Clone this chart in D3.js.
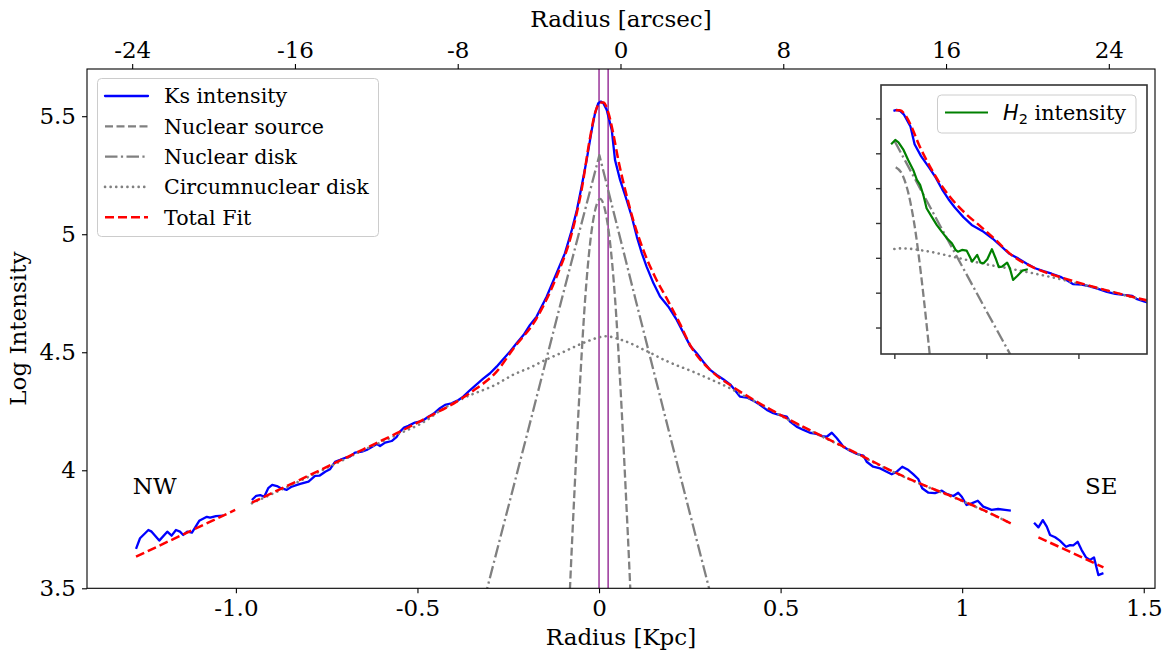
<!DOCTYPE html>
<html>
<head>
<meta charset="utf-8">
<script src="https://cdn.jsdelivr.net/npm/d3@7"></script>
<style>
  body { margin: 0; background: #fff; }
  svg text { font-family: "DejaVu Serif", serif; fill: #000; }
</style>
</head>
<body>
<svg id="chart" width="1166" height="656"></svg>
<script>
// radius [kpc], log intensity
var ksNW = [[-1.275,3.667],[-1.264,3.712],[-1.241,3.747],[-1.232,3.740],[-1.211,3.702],[-1.189,3.740],[-1.177,3.723],[-1.165,3.747],[-1.154,3.740],[-1.145,3.726],[-1.134,3.740],[-1.121,3.736],[-1.101,3.786],[-1.080,3.803],[-1.071,3.799],[-1.055,3.806],[-1.035,3.808]];
var ksMid = [[-0.956,3.874],[-0.944,3.892],[-0.933,3.895],[-0.922,3.888],[-0.911,3.924],[-0.900,3.938],[-0.887,3.933],[-0.876,3.924],[-0.860,3.917],[-0.846,3.931],[-0.823,3.942],[-0.800,3.952],[-0.782,3.976],[-0.770,3.977],[-0.754,3.994],[-0.741,4.004],[-0.727,4.036],[-0.713,4.044],[-0.695,4.055],[-0.686,4.058],[-0.672,4.075],[-0.653,4.079],[-0.640,4.086],[-0.621,4.103],[-0.612,4.111],[-0.603,4.103],[-0.589,4.117],[-0.571,4.124],[-0.557,4.142],[-0.548,4.164],[-0.537,4.181],[-0.525,4.188],[-0.507,4.202],[-0.488,4.208],[-0.470,4.227],[-0.456,4.239],[-0.438,4.263],[-0.424,4.277],[-0.406,4.284],[-0.387,4.298],[-0.374,4.312],[-0.355,4.340],[-0.337,4.364],[-0.319,4.388],[-0.300,4.411],[-0.282,4.439],[-0.264,4.470],[-0.245,4.503],[-0.227,4.538],[-0.208,4.573],[-0.190,4.616],[-0.172,4.651],[-0.144,4.736],[-0.117,4.835],[-0.094,4.919],[-0.075,5.018],[-0.061,5.103],[-0.048,5.202],[-0.034,5.315],[-0.020,5.442],[-0.011,5.513],[-0.002,5.555],[0.005,5.562],[0.012,5.555],[0.021,5.527],[0.035,5.442],[0.044,5.315],[0.058,5.230],[0.076,5.145],[0.090,5.075],[0.104,4.990],[0.118,4.919],[0.131,4.863],[0.150,4.792],[0.168,4.736],[0.191,4.693],[0.214,4.637],[0.251,4.527],[0.269,4.496],[0.287,4.460],[0.306,4.425],[0.324,4.404],[0.342,4.386],[0.361,4.364],[0.374,4.340],[0.388,4.312],[0.407,4.308],[0.425,4.295],[0.443,4.277],[0.462,4.256],[0.480,4.242],[0.498,4.234],[0.517,4.227],[0.526,4.206],[0.544,4.185],[0.563,4.171],[0.581,4.159],[0.599,4.154],[0.613,4.145],[0.627,4.142],[0.641,4.159],[0.655,4.136],[0.673,4.100],[0.691,4.083],[0.710,4.069],[0.728,4.062],[0.737,4.036],[0.755,4.015],[0.774,4.008],[0.792,3.994],[0.806,3.983],[0.820,3.994],[0.835,4.015],[0.852,4.001],[0.865,3.984],[0.879,3.963],[0.890,3.924],[0.907,3.905],[0.925,3.903],[0.944,3.914],[0.957,3.900],[0.976,3.891],[0.989,3.905],[0.999,3.888],[1.012,3.853],[1.026,3.860],[1.043,3.871],[1.058,3.846],[1.081,3.832],[1.099,3.836],[1.118,3.832],[1.134,3.829]];
var ksSE = [[1.198,3.778],[1.210,3.758],[1.222,3.789],[1.233,3.761],[1.242,3.726],[1.256,3.716],[1.269,3.702],[1.286,3.676],[1.297,3.683],[1.306,3.682],[1.318,3.697],[1.329,3.662],[1.341,3.631],[1.352,3.620],[1.363,3.631],[1.375,3.556],[1.389,3.564]];

var fitNW = [[-1.275,3.634],[-1.140,3.732],[-1.002,3.832]];
var fitMid = [[-0.956,3.863],[-0.796,3.980],[-0.649,4.089],[-0.557,4.157],[-0.465,4.230],[-0.392,4.291],[-0.337,4.347],[-0.282,4.418],[-0.236,4.515],[-0.172,4.644],[-0.117,4.820],[-0.075,5.004],[-0.048,5.188],[-0.025,5.407],[-0.011,5.513],[0.003,5.558],[0.012,5.558],[0.026,5.513],[0.039,5.428],[0.053,5.315],[0.072,5.188],[0.094,5.061],[0.122,4.933],[0.154,4.820],[0.186,4.729],[0.223,4.620],[0.251,4.530],[0.306,4.425],[0.361,4.361],[0.434,4.291],[0.526,4.213],[0.618,4.142],[0.710,4.072],[0.801,4.001],[0.893,3.938],[0.985,3.881],[1.077,3.818],[1.134,3.775]];
var fitSE = [[1.210,3.716],[1.299,3.653],[1.389,3.589]];

var nuclearSource = [[-0.088,3.20],[-0.080,3.50],[-0.067,3.93],[-0.052,4.38],[-0.038,4.73],[-0.024,4.97],[-0.011,5.10],[0.003,5.15],[0.017,5.10],[0.030,4.97],[0.044,4.73],[0.058,4.38],[0.073,3.93],[0.086,3.50],[0.094,3.20]];
var nuclearDisk = [[-0.360,3.19],[-0.308,3.50],[-0.200,4.141],[-0.100,4.741],[0.001,5.335],[0.100,4.727],[0.200,4.119],[0.303,3.50],[0.350,3.21]];
var circumDisk = [[-0.956,3.86],[-0.796,3.975],[-0.649,4.085],[-0.557,4.15],[-0.465,4.222],[-0.447,4.243],[-0.374,4.305],[-0.282,4.365],[-0.236,4.405],[-0.190,4.435],[-0.144,4.47],[-0.100,4.50],[-0.050,4.535],[0.000,4.563],[0.0165,4.568],[0.070,4.548],[0.131,4.505],[0.190,4.46],[0.255,4.42],[0.306,4.386],[0.361,4.347],[0.400,4.315],[0.450,4.275],[0.526,4.21],[0.618,4.14],[0.710,4.07],[0.800,4.0],[0.893,3.937],[0.985,3.88],[1.077,3.817],[1.134,3.775]];

var h2Profile = [[-0.007,5.315],[0.002,5.346],[0.009,5.329],[0.020,5.274],[0.030,5.202],[0.041,5.131],[0.049,5.059],[0.056,5.023],[0.063,4.951],[0.070,4.856],[0.081,4.796],[0.092,4.736],[0.103,4.688],[0.114,4.641],[0.125,4.605],[0.133,4.557],[0.138,4.544],[0.147,4.557],[0.157,4.552],[0.162,4.521],[0.169,4.473],[0.180,4.521],[0.187,4.466],[0.194,4.461],[0.202,4.490],[0.212,4.562],[0.220,4.497],[0.227,4.433],[0.234,4.437],[0.245,4.466],[0.251,4.425],[0.258,4.341],[0.267,4.370],[0.278,4.408],[0.290,4.418]];

var centerLines = [0, 0.025];

var kpcTicks = [-1, -0.5, 0, 0.5, 1, 1.5];
var kpcLabels = ["-1.0", "-0.5", "0", "0.5", "1", "1.5"];
var arcTicks = [-24, -16, -8, 0, 8, 16, 24];
var arcLabels = ["-24", "-16", "-8", "0", "8", "16", "24"];
var logTicks = [3.5, 4, 4.5, 5, 5.5];
var logLabels = ["3.5", "4", "4.5", "5", "5.5"];
var insetXTicks = [0, 0.2, 0.4];
var insetYTicks = [4, 4.25, 4.5, 4.75, 5, 5.25, 5.5];

var sideLabels = [["NW", -1.284, 3.9], ["SE", 1.338, 3.9]];

var svg = d3.select('#chart');
var L = 87, R = 1155, T = 69, B = 588.3;

var x = d3.scaleLinear().domain([-1.41, 1.531]).range([L, R]);
var xTop = d3.scaleLinear().domain([-26.22, 26.27]).range([L, R]);
var y = d3.scaleLinear().domain([3.5, 5.7]).range([B, T]);

svg.append('defs').append('clipPath').attr('id', 'mainClip')
  .append('rect').attr('x', L).attr('y', T).attr('width', R - L).attr('height', B - T);

var plot = svg.append('g').attr('clip-path', 'url(#mainClip)');

function drawLine(g, data, sx, sy, color, width, dash, curve) {
  var line = d3.line().x(function (d) { return sx(d[0]); }).y(function (d) { return sy(d[1]); })
    .curve(curve || d3.curveLinear);
  var p = g.append('path').datum(data).attr('d', line)
    .attr('fill', 'none').attr('stroke', color).attr('stroke-width', width)
    .attr('stroke-linejoin', 'round');
  if (dash) p.attr('stroke-dasharray', dash);
  return p;
}

var DASH = '8,3.5', DASHDOT = '12.5,3.4,2.2,3.4', DOT = '2.2,3.4', REDDASH = '9,4';

// vertical lines at the centre
centerLines.forEach(function (c) {
  plot.append('line').attr('x1', x(c)).attr('x2', x(c)).attr('y1', T).attr('y2', B)
    .attr('stroke', 'purple').attr('stroke-width', 1.2);
});

[ksNW, ksMid, ksSE].forEach(function (s) { drawLine(plot, s, x, y, '#0000ff', 2.3); });
drawLine(plot, nuclearSource, x, y, 'gray', 2.3, DASH, d3.curveMonotoneX);
drawLine(plot, nuclearDisk, x, y, 'gray', 2.3, DASHDOT);
drawLine(plot, circumDisk, x, y, 'gray', 2.6, '0.1,5.5', d3.curveMonotoneX).attr('stroke-linecap', 'round');
drawLine(plot, fitNW, x, y, '#ff0000', 2.5, REDDASH);
drawLine(plot, fitMid, x, y, '#ff0000', 2.5, REDDASH, d3.curveMonotoneX);
drawLine(plot, fitSE, x, y, '#ff0000', 2.5, REDDASH);

// side labels
sideLabels.forEach(function (s) {
  svg.append('text').attr('x', x(s[1])).attr('y', y(s[2])).attr('font-size', 23).text(s[0]);
});

// axes
function styleAxis(g, size) {
  g.select('.domain').remove();
  g.selectAll('.tick line').attr('stroke', '#000').attr('stroke-width', 1.1);
  g.selectAll('.tick text').attr('font-family', 'DejaVu Serif').attr('font-size', size).attr('fill', '#000');
}

var gb = svg.append('g').attr('transform', 'translate(0,' + B + ')')
  .call(d3.axisBottom(x).tickValues(kpcTicks).tickFormat(function (d, i) { return kpcLabels[i]; }).tickSize(5).tickPadding(6));
styleAxis(gb, 23);

var gt = svg.append('g').attr('transform', 'translate(0,' + T + ')')
  .call(d3.axisTop(xTop).tickValues(arcTicks).tickFormat(function (d, i) { return arcLabels[i]; }).tickSize(5).tickPadding(6));
styleAxis(gt, 23);

var gl = svg.append('g').attr('transform', 'translate(' + L + ',0)')
  .call(d3.axisLeft(y).tickValues(logTicks).tickFormat(function (d, i) { return logLabels[i]; }).tickSize(5).tickPadding(6));
styleAxis(gl, 23);

svg.append('rect').attr('x', L).attr('y', T).attr('width', R - L).attr('height', B - T)
  .attr('fill', 'none').attr('stroke', '#000').attr('stroke-width', 1.1);

svg.append('text').attr('x', (L + R) / 2).attr('y', 645).attr('text-anchor', 'middle')
  .attr('font-size', 23).text('Radius [Kpc]');
svg.append('text').attr('x', (L + R) / 2).attr('y', 27).attr('text-anchor', 'middle')
  .attr('font-size', 23).text('Radius [arcsec]');
svg.append('text').attr('transform', 'translate(26,' + ((T + B) / 2) + ') rotate(-90)')
  .attr('text-anchor', 'middle').attr('font-size', 23).text('Log Intensity');

// legend
var legendItems = [
  { label: 'Ks intensity', color: '#0000ff', dash: null, w: 2.3 },
  { label: 'Nuclear source', color: 'gray', dash: DASH, w: 2.3 },
  { label: 'Nuclear disk', color: 'gray', dash: DASHDOT, w: 2.3 },
  { label: 'Circumnuclear disk', color: 'gray', dash: '0.1,5.5', w: 2.6 },
  { label: 'Total Fit', color: '#ff0000', dash: REDDASH, w: 2.5 }
];
var lg = svg.append('g');
lg.append('rect').attr('x', 97.5).attr('y', 78.5).attr('width', 281).attr('height', 158).attr('rx', 4)
  .attr('fill', '#fff').attr('fill-opacity', 0.8).attr('stroke', '#cccccc').attr('stroke-width', 1);
legendItems.forEach(function (it, i) {
  var yy = 96 + i * 30.3;
  var ln = lg.append('line').attr('x1', 105).attr('x2', 148).attr('y1', yy).attr('y2', yy)
    .attr('stroke', it.color).attr('stroke-width', it.w).attr('stroke-linecap', 'round');
  if (it.dash) ln.attr('stroke-dasharray', it.dash).attr('stroke-linecap', it.w === 2.6 ? 'round' : 'butt');
  lg.append('text').attr('x', 164).attr('y', yy).attr('dy', '0.36em').attr('font-size', 20.6).text(it.label);
});

// inset
var IL = 881, IR = 1147, IT = 85, IB = 354;
var xi = d3.scaleLinear().domain([-0.029, 0.549]).range([IL, IR]);
var yi = d3.scaleLinear().domain([3.81, 5.74]).range([IB, IT]);

svg.select('defs').append('clipPath').attr('id', 'insetClip')
  .append('rect').attr('x', IL).attr('y', IT).attr('width', IR - IL).attr('height', IB - IT);
svg.append('rect').attr('x', IL).attr('y', IT).attr('width', IR - IL).attr('height', IB - IT).attr('fill', '#fff');
var ins = svg.append('g').attr('clip-path', 'url(#insetClip)');
function right(d) { return d[0] >= -0.003; }

drawLine(ins, ksMid.filter(right), xi, yi, '#0000ff', 2.3);
drawLine(ins, nuclearSource.filter(right), xi, yi, 'gray', 2.3, DASH, d3.curveMonotoneX);
drawLine(ins, nuclearDisk.filter(right), xi, yi, 'gray', 2.3, DASHDOT);
drawLine(ins, circumDisk.filter(right), xi, yi, 'gray', 2.6, '0.1,5.5', d3.curveMonotoneX).attr('stroke-linecap', 'round');
drawLine(ins, fitMid.filter(right), xi, yi, '#ff0000', 2.5, REDDASH, d3.curveMonotoneX);
drawLine(ins, h2Profile, xi, yi, 'green', 2.2);

var gib = svg.append('g').attr('transform', 'translate(0,' + IB + ')')
  .call(d3.axisBottom(xi).tickValues(insetXTicks).tickFormat('').tickSize(5));
styleAxis(gib, 10);
var gil = svg.append('g').attr('transform', 'translate(' + IL + ',0)')
  .call(d3.axisLeft(yi).tickValues(insetYTicks).tickFormat('').tickSize(5));
styleAxis(gil, 10);
gib.selectAll('.tick line').attr('stroke', '#333').attr('stroke-width', 1.4);
gil.selectAll('.tick line').attr('stroke', '#333').attr('stroke-width', 1.4);
svg.append('rect').attr('x', IL).attr('y', IT).attr('width', IR - IL).attr('height', IB - IT)
  .attr('fill', 'none').attr('stroke', '#333').attr('stroke-width', 1.6);

// inset legend
var il = svg.append('g');
il.append('rect').attr('x', 937.5).attr('y', 95).attr('width', 198.5).attr('height', 38).attr('rx', 4)
  .attr('fill', '#fff').attr('fill-opacity', 0.8).attr('stroke', '#cccccc').attr('stroke-width', 1);
il.append('line').attr('x1', 945).attr('x2', 988).attr('y1', 112.5).attr('y2', 112.5)
  .attr('stroke', 'green').attr('stroke-width', 2.2);
var t = il.append('text').attr('x', 1003).attr('y', 112.5).attr('dy', '0.36em').attr('font-size', 20.8);
t.append('tspan').attr('font-family', 'DejaVu Sans').attr('font-style', 'italic').text('H');
t.append('tspan').attr('font-family', 'DejaVu Sans').attr('font-size', 14.5).attr('dy', 4).text('2');
t.append('tspan').attr('dy', -4).text(' intensity');
</script>
</body>
</html>
